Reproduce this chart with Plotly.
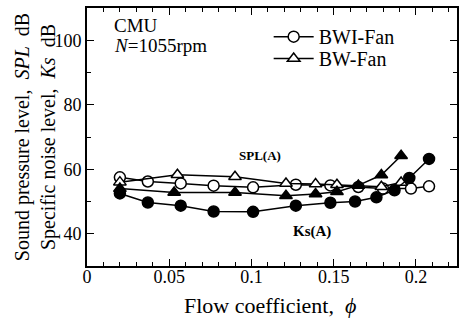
import plotly.graph_objects as go

# Flow coefficient values and levels (dB)
bwi_spl_x = [0.020, 0.037, 0.057, 0.077, 0.101, 0.127, 0.148, 0.165, 0.180, 0.197, 0.208]
bwi_spl_y = [57.5, 56.2, 55.6, 54.9, 54.4, 55.2, 55.0, 54.5, 54.0, 54.0, 54.7]

bw_spl_x = [0.020, 0.055, 0.090, 0.121, 0.139, 0.152, 0.179, 0.191]
bw_spl_y = [56.0, 58.3, 57.7, 55.6, 55.4, 55.2, 54.6, 55.9]

bwi_ks_x = [0.020, 0.037, 0.057, 0.077, 0.101, 0.127, 0.148, 0.163, 0.176, 0.187, 0.196, 0.208]
bwi_ks_y = [52.5, 49.7, 48.7, 46.9, 46.8, 48.7, 49.6, 50.0, 51.3, 53.5, 57.3, 63.2]

bw_ks_x = [0.020, 0.053, 0.090, 0.121, 0.139, 0.152, 0.165, 0.179, 0.191]
bw_ks_y = [54.0, 52.8, 52.8, 51.8, 52.3, 53.0, 55.0, 58.2, 64.2]

x_tickvals = [0, 0.05, 0.1, 0.15, 0.2]
x_ticktext = ["0", "0.05", "0.1", "0.15", "0.2"]
y_tickvals = [40, 60, 80, 100]

FONT = "Liberation Serif"
LW = 1.5

fig = go.Figure()

def add(x, y, symbol, fill, name, show, legend="legend"):
    fig.add_trace(go.Scatter(
        x=x, y=y, mode="lines+markers", name=name, showlegend=show, legend=legend,
        line=dict(color="black", width=LW),
        marker=dict(symbol=symbol, size=11, color=fill,
                    line=dict(color="black", width=1.5)),
    ))

add(bwi_spl_x, bwi_spl_y, "circle", "white", "BWI-Fan", True, "legend")
add(bw_spl_x, bw_spl_y, "triangle-up", "white", "BW-Fan", True, "legend2")
add(bw_ks_x, bw_ks_y, "triangle-up", "black", "BW-Fan Ks", False)
add(bwi_ks_x, bwi_ks_y, "circle", "black", "BWI-Fan Ks", False)

leg_common = dict(xanchor="left", yanchor="middle", bgcolor="rgba(0,0,0,0)",
                  font=dict(size=20, family=FONT), itemwidth=40)

fig.update_layout(
    width=459, height=322,
    margin=dict(l=87, r=2, t=8, b=56),
    paper_bgcolor="white", plot_bgcolor="white",
    font=dict(family=FONT, color="black", size=18),
    legend=dict(x=0.491, y=0.889, **leg_common),
    legend2=dict(x=0.491, y=0.804, **leg_common),
    xaxis=dict(range=[0, 0.225], tickvals=x_tickvals, ticktext=x_ticktext,
               ticks="inside", ticklen=7, tickwidth=1.2, tickcolor="black",
               minor=dict(dtick=0.01, ticks="inside", ticklen=4, tickcolor="black", tickwidth=1),
               showline=True, linecolor="black", linewidth=2, mirror="ticks",
               showgrid=False, zeroline=False, automargin=False,
               ticklabelstandoff=-7,
               tickfont=dict(size=18, family=FONT)),
    yaxis=dict(range=[30, 110], tickvals=y_tickvals,
               ticks="inside", ticklen=7, tickwidth=1.2, tickcolor="black",
               minor=dict(dtick=10, ticks="inside", ticklen=4, tickcolor="black", tickwidth=1),
               showline=True, linecolor="black", linewidth=2, mirror="ticks",
               showgrid=False, zeroline=False, automargin=False,
               tickfont=dict(size=18, family=FONT)),
    annotations=[
        dict(x=0.495, y=-0.155, xref="paper", yref="paper", showarrow=False,
             text="Flow coefficient,  <i>ϕ</i>", font=dict(size=22, family=FONT),
             xanchor="center", yanchor="middle"),
        dict(x=-0.14, y=0.5, xref="paper", yref="paper", showarrow=False, textangle=-90,
             text="Sound pressure level,  <i>SPL</i>  dB<br>Specific noise level,  <i>Ks</i>  dB",
             font=dict(size=20, family=FONT), xanchor="center", yanchor="middle"),
        dict(x=0.015, y=104.6, xref="x", yref="y", text="CMU", showarrow=False,
             xanchor="left", font=dict(size=19, family=FONT)),
        dict(x=0.015, y=98.3, xref="x", yref="y", text="<i>N</i>=1055rpm", showarrow=False,
             xanchor="left", font=dict(size=19, family=FONT)),
        dict(x=0.105, y=64.2, xref="x", yref="y", text="<b>SPL(A)</b>", showarrow=False,
             font=dict(size=13, family=FONT)),
        dict(x=0.137, y=40.8, xref="x", yref="y", text="<b>Ks(A)</b>", showarrow=False,
             font=dict(size=15, family=FONT)),
    ],
)

fig.write_html("out.html", config={"displayModeBar": False},
               post_script="document.body.style.margin='0';document.body.style.overflow='hidden';")
